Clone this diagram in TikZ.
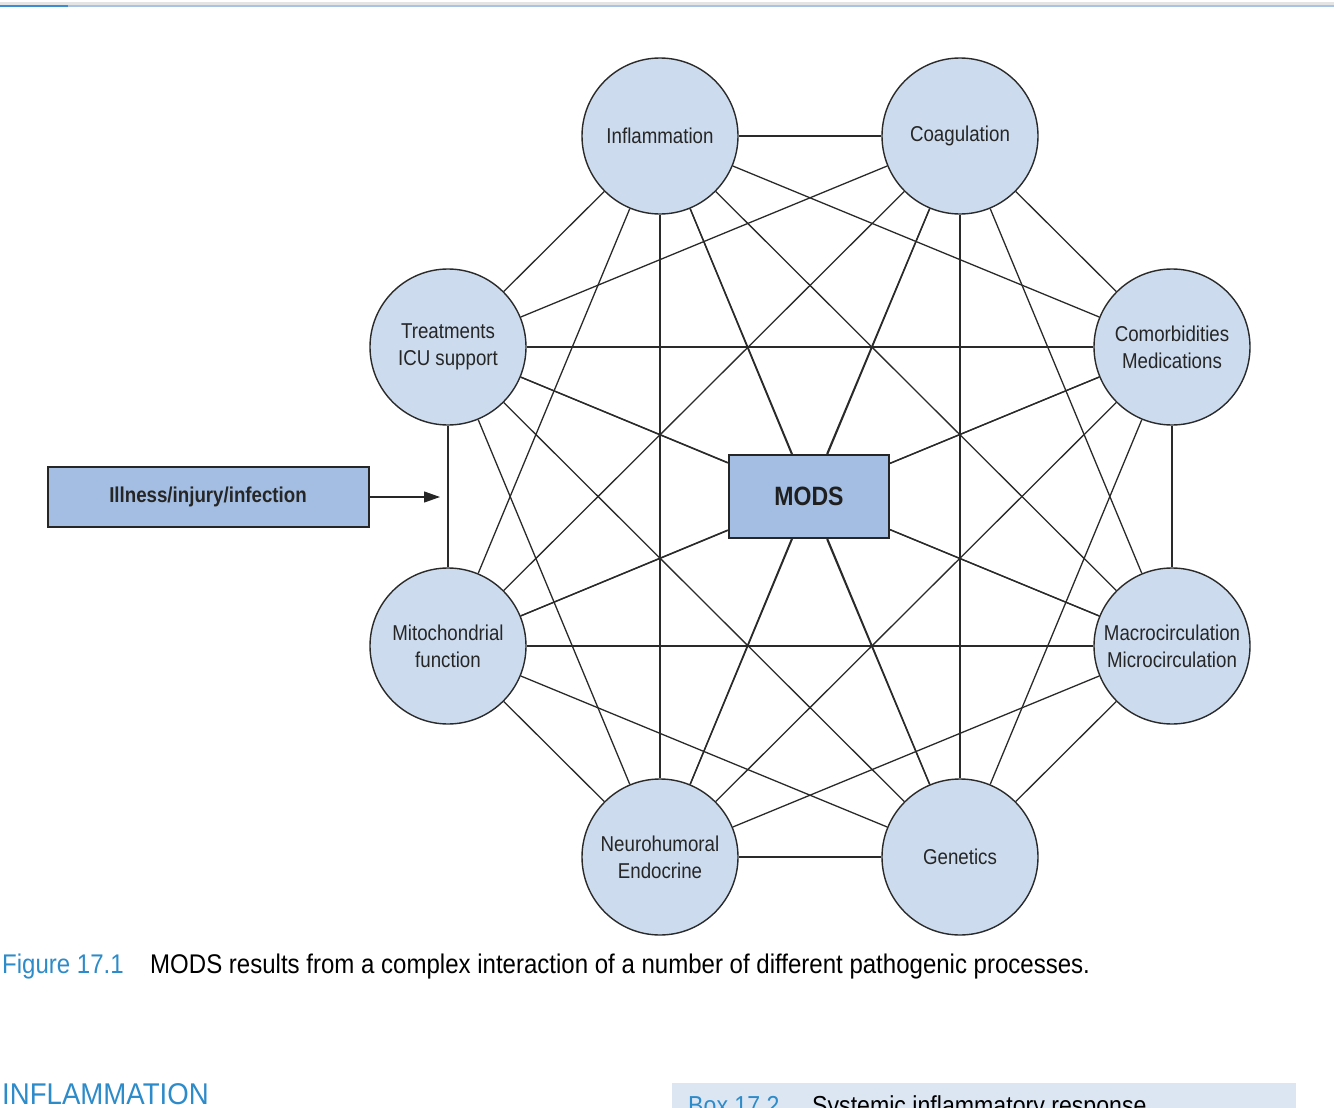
\documentclass[tikz,border=0pt]{standalone}
\usepackage{fontspec}
\setmainfont{Liberation Sans}
\newfontfamily\diagfont[FakeStretch=0.87]{Liberation Sans}
\newfontfamily\capfont[FakeStretch=0.89]{Liberation Sans}
\newfontfamily\headfont[FakeStretch=0.92]{Liberation Sans}
\usetikzlibrary{backgrounds,arrows.meta}
\definecolor{circfill}{HTML}{CCDBEE}
\definecolor{boxfill}{HTML}{A3BEE2}
\definecolor{edgecol}{HTML}{2A2A2A}
\definecolor{capblue}{HTML}{2E8BC9}
\definecolor{toplight}{HTML}{A9C3E2}
\definecolor{topdark}{HTML}{3A8DD0}
\definecolor{topgray}{HTML}{E4E4E4}
\definecolor{boxbg}{HTML}{DCE6F3}
\begin{document}
\begin{tikzpicture}[x=1pt,y=-1pt,
  proc/.style={circle, draw=edgecol, line width=1.4pt, fill=circfill, minimum size=156pt, inner sep=0pt, align=center, font=\diagfont\fontsize{21.5}{27}\selectfont, text=black!85},
  hub/.style={rectangle, draw=black!85, line width=2.5pt, fill=boxfill, minimum width=160pt, minimum height=83pt, font=\diagfont\bfseries\fontsize{26.5}{30}\selectfont, text=black!88},
  src/.style={rectangle, draw=black!85, line width=2pt, fill=boxfill, minimum width=321pt, minimum height=60pt, font=\diagfont\bfseries\fontsize{21.5}{24}\selectfont, text=black!85},
  link/.style={draw=edgecol, line width=1.3pt},
  captxt/.style={anchor=base west, inner sep=0pt, font=\capfont\fontsize{27}{30}\selectfont},
  boxtxt/.style={anchor=base west, inner sep=0pt, font=\capfont\fontsize{26}{30}\selectfont}
]
\clip (0,0) rectangle (1334,1108);
\useasboundingbox (0,0) rectangle (1334,1108);
% top rule
\fill[topgray] (0,2.5) rectangle (1334,4.6);
\fill[toplight] (0,4.6) rectangle (1334,7);
\fill[topdark] (0,4.6) rectangle (68,7);

% process circles (symmetric about the MODS centre)
\node[proc] (infl)  at (660,136) {Inflammation};
\node[proc] (coag)  at (960,136) {Coagulation};
\node[proc] (como)  at (1172,347) {Comorbidities\\Medications};
\node[proc] (macro) at (1172,646) {Macrocirculation\\Microcirculation};
\node[proc] (gen)   at (960,857) {Genetics};
\node[proc] (neuro) at (660,857) {Neurohumoral\\Endocrine};
\node[proc] (mito)  at (448,646) {Mitochondrial\\function};
\node[proc] (treat) at (448,347) {Treatments\\ICU support};
\node[hub] (mods) at (809,496.5) {MODS};
\node[src] (ill) at (208,497) {Illness/injury/infection};
\coordinate (arrend) at (440,497);
\draw[-{Triangle[length=16pt,width=11pt]}, line width=1.2pt, black!85] (ill) -- (arrend);

\begin{scope}[on background layer]
  \foreach \a/\b in {infl/coag, infl/como, infl/macro, infl/gen, infl/neuro, infl/mito, infl/treat,
                     coag/como, coag/macro, coag/gen, coag/neuro, coag/mito, coag/treat,
                     como/macro, como/gen, como/neuro, como/mito, como/treat,
                     macro/gen, macro/neuro, macro/mito, macro/treat,
                     gen/neuro, gen/mito, gen/treat,
                     neuro/mito, neuro/treat,
                     mito/treat}
    {\draw[link] (\a) -- (\b);}
  \foreach \a/\b in {infl/gen, coag/neuro, como/mito, macro/treat,
                     gen/infl, neuro/coag, mito/como, treat/macro}
    {\draw[link] (\a) -- (mods);}
\end{scope}

% caption
\node[captxt, text=capblue] (figlab) at (2,973) {Figure 17.1};
\node[captxt, text=black] (captext) at (150,973) {MODS results from a complex interaction of a number of different pathogenic processes.};

% bottom of page
\node[anchor=base west, inner sep=0pt, font=\headfont\fontsize{30}{32}\selectfont, text=capblue] (sec) at (2,1104) {INFLAMMATION};
\fill[boxbg] (672,1083) rectangle (1296,1130);
\node[boxtxt, text=capblue] (boxlab) at (688,1114) {Box 17.2};
\node[boxtxt, text=black] (boxtitle) at (812,1114) {Systemic inflammatory response};
\end{tikzpicture}
\end{document}
